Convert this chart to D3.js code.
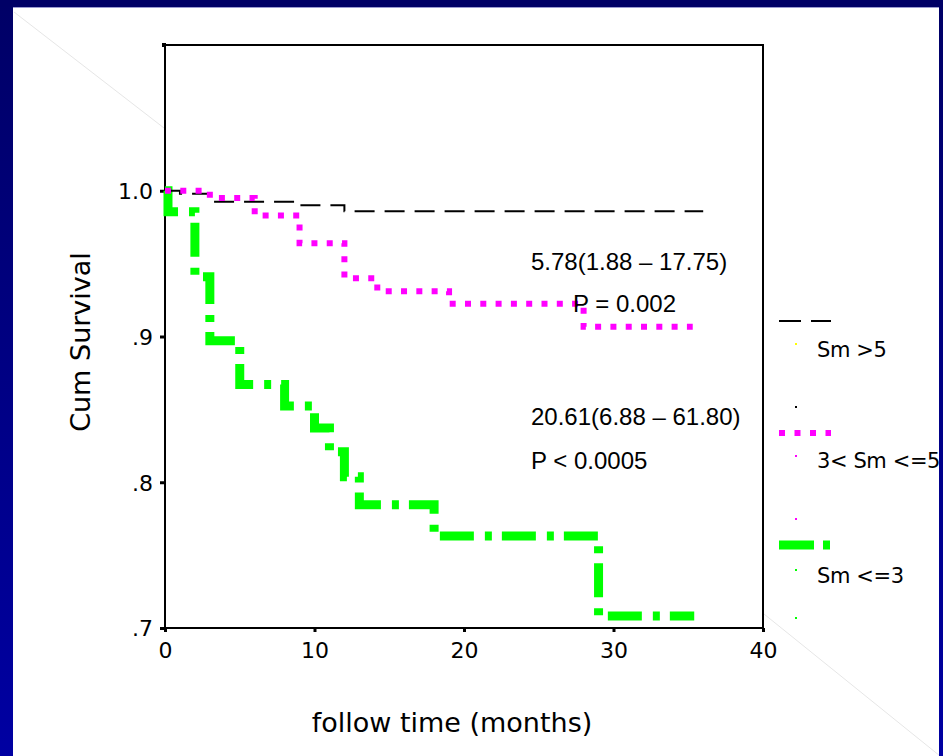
<!DOCTYPE html>
<html>
<head>
<meta charset="utf-8">
<script src="https://cdn.jsdelivr.net/npm/d3@7"></script>
<style>
  html, body { margin: 0; padding: 0; background: #ffffff; }
  svg { display: block; }
</style>
</head>
<body>
<svg id="chart" width="943" height="756"></svg>
<script>
// ---------------- data ----------------
const groupNames = ["Sm >5", "3< Sm <=5", "Sm <=3"];

const smGt5Time = [0, 1, 3, 9, 12, 36];
const smGt5Surv = [1.0, 0.998, 0.9925, 0.990, 0.986, 0.986];

const sm3to5Time = [0, 3, 6, 9, 12, 14.2, 19, 28, 35.3];
const sm3to5Surv = [1.0, 0.995, 0.983, 0.964, 0.940, 0.931, 0.9224, 0.9067, 0.9067];

const smLe3Time = [0, 0.2, 2, 3, 5, 8, 10, 11, 12, 13, 18, 29, 35.4];
const smLe3Surv = [1.0, 0.9856, 0.941, 0.897, 0.867, 0.8524, 0.8373, 0.8209, 0.8037, 0.7845, 0.7632, 0.7083, 0.7083];

const xTickValues = [0, 10, 20, 30, 40];
const yTickValues = [0.7, 0.8, 0.9, 1.0];
const yTickLabels = [".7", ".8", ".9", "1.0"];

const annotations = ["5.78(1.88 – 17.75)", "P = 0.002", "20.61(6.88 – 61.80)", "P < 0.0005"];
const xTitle = "follow time (months)";
const yTitle = "Cum Survival";

// ---------------- drawing ----------------
const svg = d3.select("#chart");
const W = 943, H = 756;

const defs = svg.append("defs");
const grad = defs.append("linearGradient").attr("id", "blueGrad")
  .attr("x1", 0).attr("y1", 0).attr("x2", 0).attr("y2", 1);
grad.append("stop").attr("offset", "0%").attr("stop-color", "#000066");
grad.append("stop").attr("offset", "100%").attr("stop-color", "#0000a2");

svg.append("rect").attr("x", 0).attr("y", 0).attr("width", W).attr("height", H).attr("fill", "#ffffff");

// faint decorative diagonals
svg.append("line").attr("x1", 14).attr("y1", 12).attr("x2", 164).attr("y2", 128)
  .attr("stroke", "#e6e6e6").attr("stroke-width", 1);
svg.append("line").attr("x1", 764).attr("y1", 614).attr("x2", 940).attr("y2", 756)
  .attr("stroke", "#e6e6e6").attr("stroke-width", 1);

const x = d3.scaleLinear().domain([0, 40]).range([165, 763]);
const y = d3.scaleLinear().domain([0.7, 1.1]).range([628, 45]);

// frame
svg.append("rect").attr("x", x(0)).attr("y", y(1.1))
  .attr("width", x(40) - x(0)).attr("height", y(0.7) - y(1.1))
  .attr("fill", "none").attr("stroke", "#000").attr("stroke-width", 2);
svg.append("rect").attr("x", x(0) - 3).attr("y", y(1.1) - 2).attr("width", 4).attr("height", 4).attr("fill", "#000");

// axes
const yAxis = d3.axisLeft(y).tickValues(yTickValues)
  .tickFormat((d, i) => yTickLabels[i]).tickSize(5).tickPadding(7);
const gy = svg.append("g").attr("transform", `translate(${x(0)},0)`).call(yAxis);
gy.select(".domain").remove();
gy.selectAll(".tick line").attr("stroke", "#000").attr("stroke-width", 3);
gy.selectAll(".tick text").attr("font-family", "DejaVu Sans").attr("font-size", 22)
  .attr("fill", "#000").attr("dy", "0.36em");

const xAxis = d3.axisBottom(x).tickValues(xTickValues).tickFormat(d3.format("d")).tickSize(4).tickPadding(10);
const gx = svg.append("g").attr("transform", `translate(0,${y(0.7)})`).call(xAxis);
gx.select(".domain").remove();
gx.selectAll(".tick line").attr("stroke", "#000").attr("stroke-width", 3);
gx.selectAll(".tick text").attr("font-family", "DejaVu Sans").attr("font-size", 22)
  .attr("fill", "#000").attr("dy", "0.71em");

// survival curves
const line = d3.line().x(d => x(d[0])).y(d => y(d[1])).curve(d3.curveStepAfter);
const zip = (a, b) => a.map((t, i) => [t, b[i]]);

svg.append("path").datum(zip(smLe3Time, smLe3Surv)).attr("d", line)
  .attr("fill", "none").attr("stroke", "#00ff00").attr("stroke-width", 9)
  .attr("stroke-dasharray", "34,11,7,10");

svg.append("path").datum(zip(smGt5Time, smGt5Surv)).attr("d", line)
  .attr("fill", "none").attr("stroke", "#000").attr("stroke-width", 2)
  .attr("stroke-dasharray", "20,10");

svg.append("path").datum(zip(sm3to5Time, sm3to5Surv)).attr("d", line)
  .attr("fill", "none").attr("stroke", "#ff00ff").attr("stroke-width", 6)
  .attr("stroke-dasharray", "6,9.3");

// annotations
const annoX = [531, 573, 531, 531];
const annoY = [270, 312, 425, 469];
svg.selectAll("text.anno").data(annotations).enter().append("text")
  .attr("class", "anno")
  .attr("x", (d, i) => annoX[i]).attr("y", (d, i) => annoY[i])
  .attr("font-family", "Liberation Sans, Arial, sans-serif").attr("font-size", 24)
  .attr("fill", "#000").text(d => d);

// axis titles
svg.append("text").attr("x", 452).attr("y", 732).attr("text-anchor", "middle")
  .attr("font-family", "DejaVu Sans").attr("font-size", 27).attr("fill", "#000").text(xTitle);
svg.append("text").attr("transform", "translate(90,342) rotate(-90)").attr("text-anchor", "middle")
  .attr("font-family", "DejaVu Sans").attr("font-size", 27).attr("fill", "#000").text(yTitle);

// legend
const legendColors = ["#000", "#ff00ff", "#00ff00"];
const legendWidths = [2, 6, 9];
const legendDash = ["22,10", "6,9.5", "35,9,7,20"];
const legendLineY = [321, 433, 545];
const legendTextY = [357, 468, 583];
const legendDotY = [[344, 407], [456, 519], [570, 618]];
const legendDotColor = [["#ffff00", "#000"], ["#ff00ff", "#ff00ff"], ["#00ff00", "#00ff00"]];

groupNames.forEach((name, i) => {
  svg.append("line").attr("x1", 779).attr("x2", 831)
    .attr("y1", legendLineY[i]).attr("y2", legendLineY[i])
    .attr("stroke", legendColors[i]).attr("stroke-width", legendWidths[i])
    .attr("stroke-dasharray", legendDash[i]);
  legendDotY[i].forEach((dy, j) => {
    svg.append("rect").attr("x", 795).attr("y", dy - 1).attr("width", 2).attr("height", 2)
      .attr("fill", legendDotColor[i][j]);
  });
  svg.append("text").attr("x", 817).attr("y", legendTextY[i])
    .attr("font-family", "DejaVu Sans").attr("font-size", 21).attr("fill", "#000")
    .attr("letter-spacing", -0.4)
    .attr("xml:space", "preserve").text(name);
});

// slide border
svg.append("rect").attr("x", 0).attr("y", 0).attr("width", 13).attr("height", H).attr("fill", "url(#blueGrad)");
svg.append("rect").attr("x", 939).attr("y", 0).attr("width", 4).attr("height", H).attr("fill", "url(#blueGrad)");
svg.append("rect").attr("x", 0).attr("y", 0).attr("width", W).attr("height", 7).attr("fill", "#000066");
svg.append("rect").attr("x", 13).attr("y", 7).attr("width", 926).attr("height", 1).attr("fill", "#9a9ad0");
</script>
</body>
</html>
